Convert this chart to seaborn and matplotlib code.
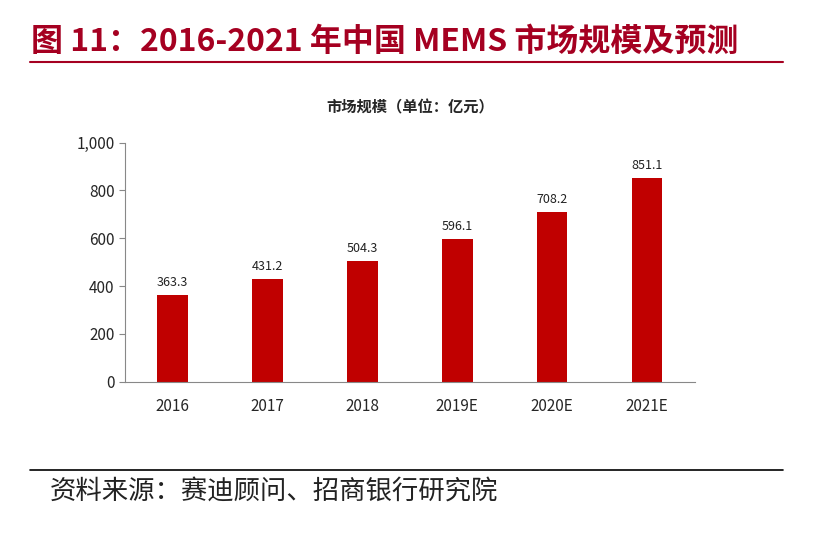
import matplotlib.pyplot as plt
import seaborn as sns
import pandas as pd
from matplotlib.lines import Line2D

years = ["2016", "2017", "2018", "2019E", "2020E", "2021E"]
values = [363.3, 431.2, 504.3, 596.1, 708.2, 851.1]
yticks = [0, 200, 400, 600, 800, 1000]

sns.set_style("white")
plt.rcParams['font.family'] = ['Noto Sans CJK SC', 'DejaVu Sans']

data = pd.DataFrame({"year": years, "value": values})

fig = plt.figure(figsize=(8.33, 5.55), dpi=100)
ax = fig.add_axes([0.150, 0.312, 0.684, 0.431])
sns.barplot(data=data, x="year", y="value", color="#C00000", saturation=1,
            width=0.32, linewidth=0, ax=ax)
for i, v in enumerate(values):
    ax.text(i, v + 25, f"{v:.1f}", ha="center", va="bottom", fontsize=9, color="#222222")

ax.set_ylim(0, 1000)
ax.set_yticks(yticks)
ax.set_yticklabels([f"{t:,}" for t in yticks], fontsize=11)
ax.tick_params(axis="x", labelsize=11, pad=8)
ax.set_xlabel("")
ax.set_ylabel("")
for s in ["top", "right"]:
    ax.spines[s].set_visible(False)
for s in ["left", "bottom"]:
    ax.spines[s].set_color("#888888")
ax.tick_params(axis="y", length=4, color="#888888", direction="out", left=True)
ax.set_title("市场规模（单位：亿元）", fontsize=11, fontweight="bold", pad=22)

fig.text(0.037, 0.925, "图 11：2016-2021 年中国 MEMS 市场规模及预测", fontsize=23,
         fontweight="bold", color="#A50021", va="center")
fig.add_artist(Line2D([0.036, 0.94], [0.888, 0.888], color="#A50021", lw=1.5))
fig.add_artist(Line2D([0.036, 0.94], [0.153, 0.153], color="black", lw=1.2))
fig.text(0.06, 0.113, "资料来源：赛迪顾问、招商银行研究院", fontsize=19, color="#222222", va="center")

plt.savefig("out.png", dpi=100)
